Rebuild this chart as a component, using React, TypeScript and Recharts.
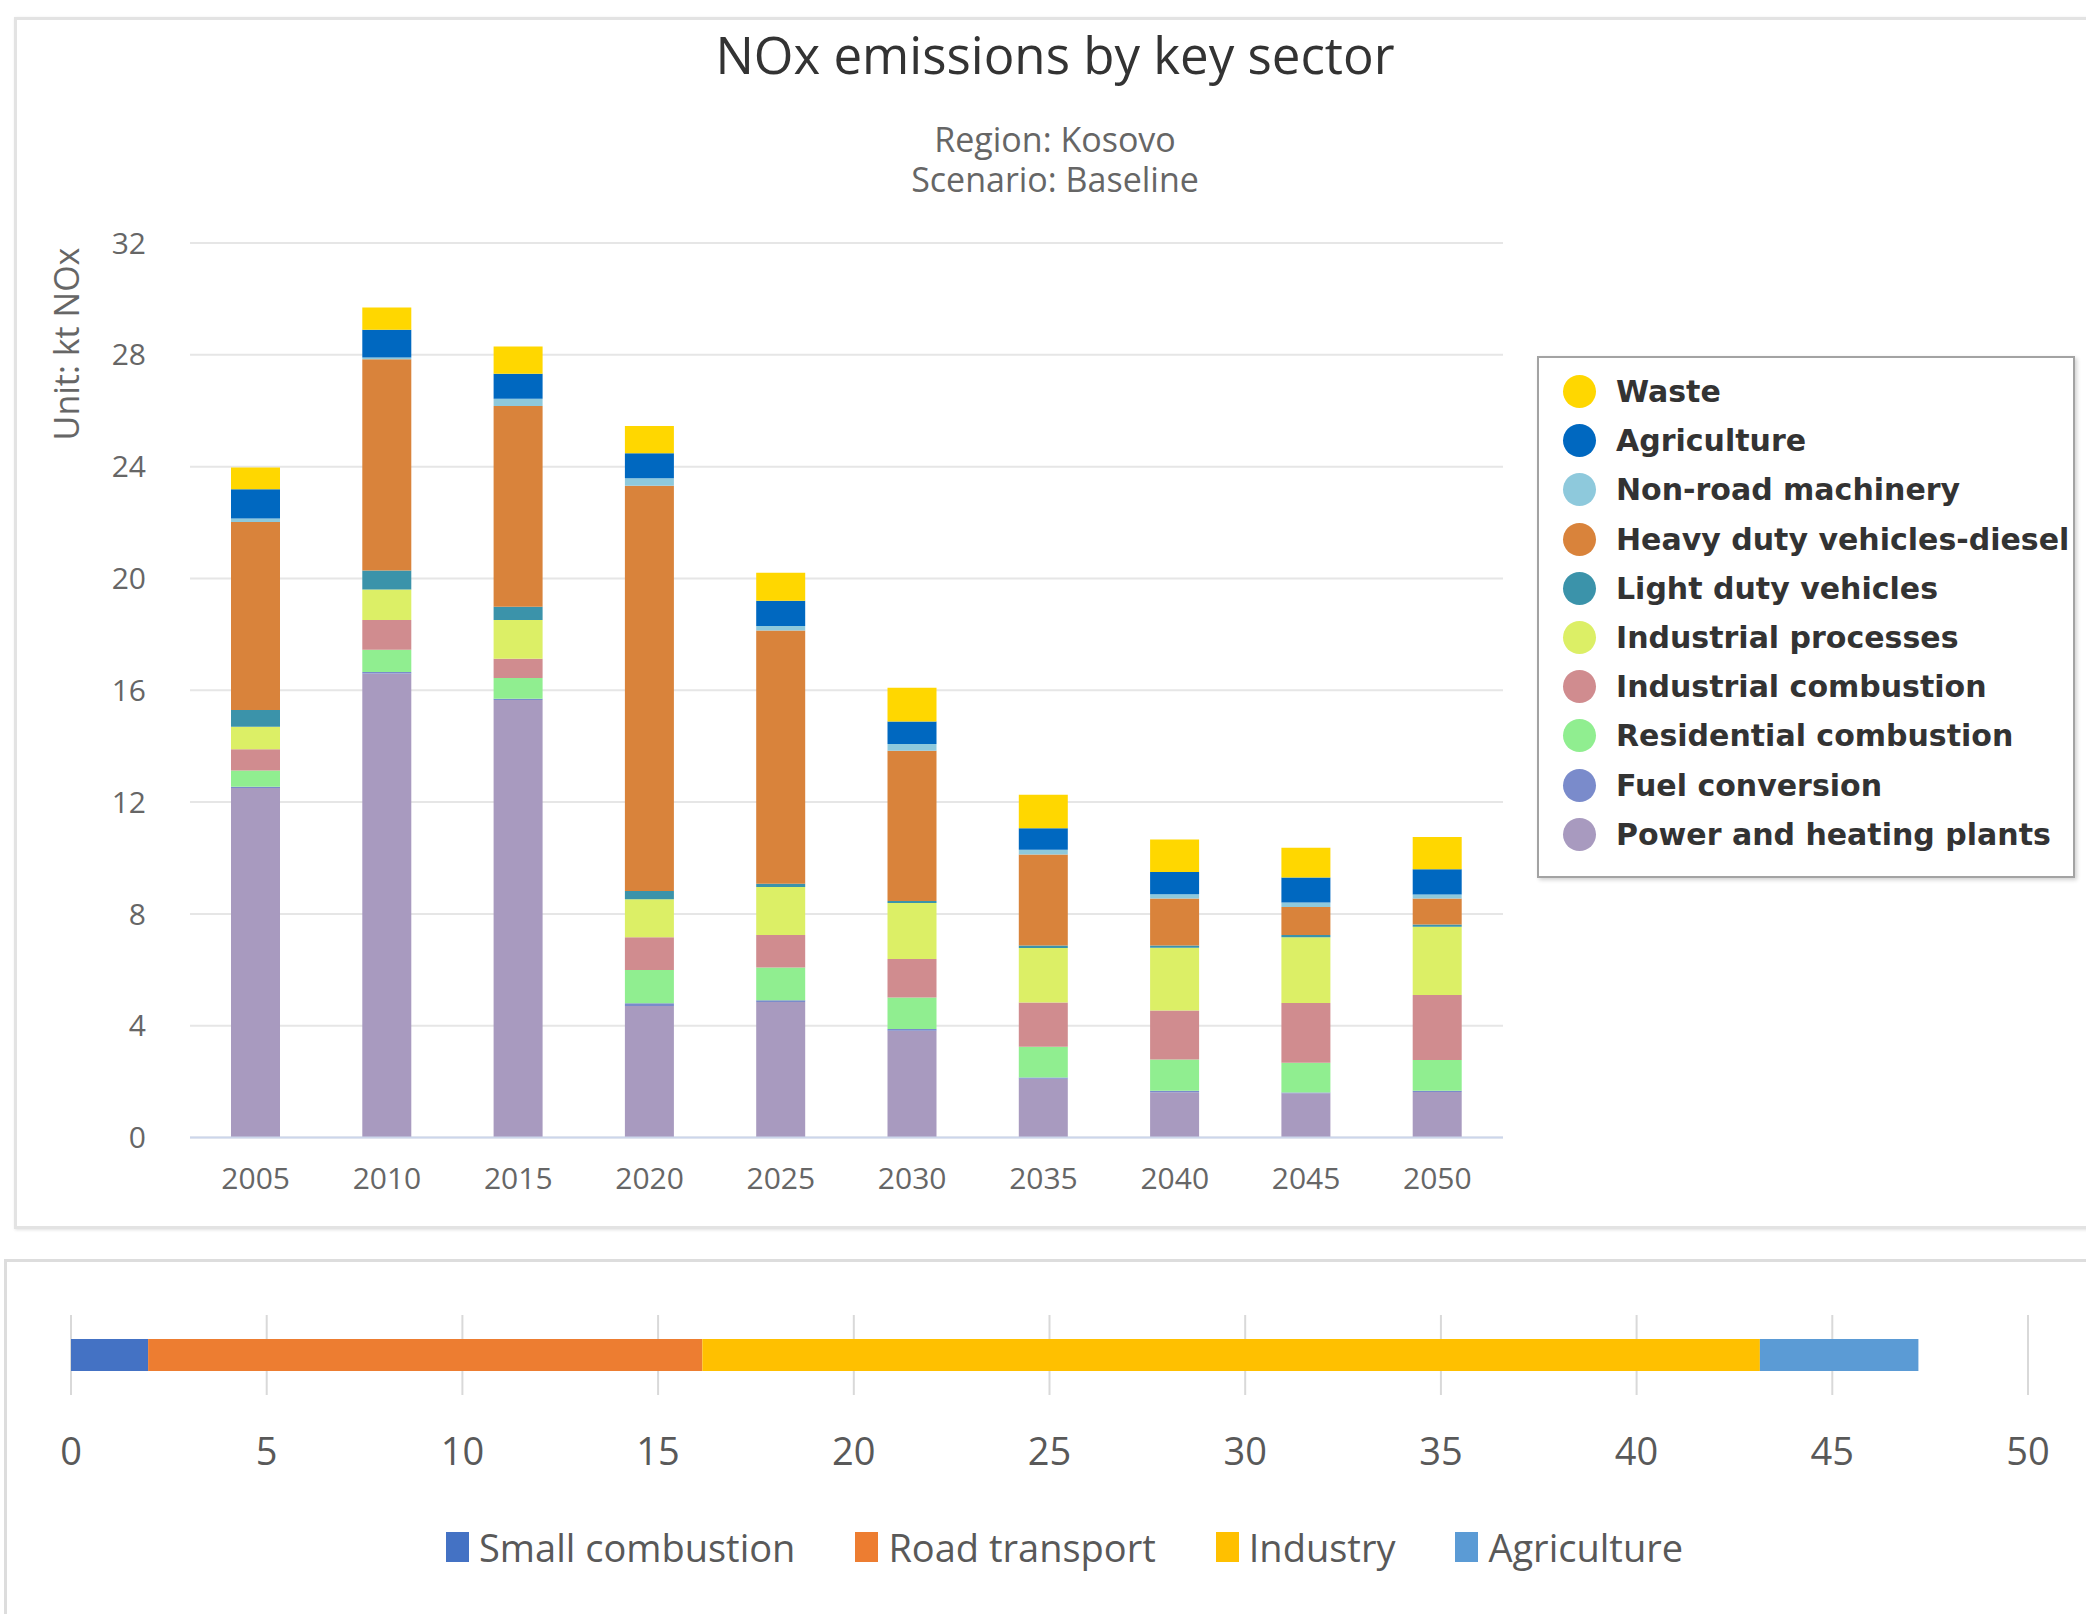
import React from 'react';
import { BarChart, Bar, XAxis, YAxis, CartesianGrid, Legend } from 'recharts';

// top chart: NOx by key sector (kt), stacked bottom -> top
const years = ['2005', '2010', '2015', '2020', '2025', '2030', '2035', '2040', '2045', '2050'];

const powerHeating = [12.5, 16.6, 15.65, 4.7, 4.85, 3.82, 2.1, 1.62, 1.58, 1.63];
const fuelConversion = [0.05, 0.05, 0.05, 0.1, 0.06, 0.06, 0.05, 0.05, 0.03, 0.04];
const residential = [0.58, 0.8, 0.74, 1.19, 1.17, 1.13, 1.1, 1.12, 1.06, 1.1];
const industrialComb = [0.76, 1.06, 0.69, 1.17, 1.16, 1.38, 1.58, 1.75, 2.14, 2.33];
const industrialProc = [0.8, 1.09, 1.38, 1.36, 1.72, 2.0, 1.95, 2.25, 2.35, 2.44];
const lightDuty = [0.6, 0.68, 0.48, 0.3, 0.12, 0.07, 0.09, 0.08, 0.08, 0.08];
const heavyDuty = [6.73, 7.56, 7.18, 14.5, 9.06, 5.38, 3.25, 1.68, 1.01, 0.93];
const nonRoad = [0.12, 0.06, 0.26, 0.26, 0.16, 0.24, 0.17, 0.15, 0.16, 0.14];
const agriculture = [1.05, 1.0, 0.89, 0.9, 0.9, 0.8, 0.77, 0.8, 0.89, 0.91];
const waste = [0.78, 0.79, 0.98, 0.97, 1.0, 1.21, 1.2, 1.16, 1.07, 1.15];

const yTicks = [0, 4, 8, 12, 16, 20, 24, 28, 32];

const sectors = [
  { key: 'power', name: 'Power and heating plants', color: '#a89abf', values: powerHeating },
  { key: 'fuel', name: 'Fuel conversion', color: '#7a8bcb', values: fuelConversion },
  { key: 'residential', name: 'Residential combustion', color: '#90ee90', values: residential },
  { key: 'indComb', name: 'Industrial combustion', color: '#d08c8f', values: industrialComb },
  { key: 'indProc', name: 'Industrial processes', color: '#dcef66', values: industrialProc },
  { key: 'light', name: 'Light duty vehicles', color: '#3b93aa', values: lightDuty },
  { key: 'heavy', name: 'Heavy duty vehicles-diesel', color: '#d9833b', values: heavyDuty },
  { key: 'nonroad', name: 'Non-road machinery', color: '#8ec9dc', values: nonRoad },
  { key: 'agri', name: 'Agriculture', color: '#0068c0', values: agriculture },
  { key: 'waste', name: 'Waste', color: '#ffd700', values: waste },
];

const topData = years.map((year, i) => {
  const row: any = { year };
  sectors.forEach((s) => { row[s.key] = s.values[i]; });
  return row;
});

// bottom chart: single horizontal stacked bar
const groups = ['Small combustion', 'Road transport', 'Industry', 'Agriculture'];
const groupColors = ['#4472c4', '#ed7d31', '#ffc000', '#5b9bd5'];
const groupValues = [1.97, 14.16, 27.02, 4.05];
const xTicks = [0, 5, 10, 15, 20, 25, 30, 35, 40, 45, 50];

const bottomData = [
  groups.reduce((row: any, g, i) => { row[g] = groupValues[i]; return row; }, { name: 'NOx' }),
];

// legend order: top of the stack first
const SectorLegend = () => {
  const items = [...sectors].reverse();
  return (
    <div
      style={{
        boxSizing: 'border-box',
        width: 538,
        height: 522,
        border: '2px solid #a3a3a3',
        boxShadow: '2px 2px 4px rgba(0,0,0,0.18)',
        background: '#fff',
        padding: '9px 0 0 24px',
        overflow: 'hidden',
      }}
    >
      {items.map((s) => (
        <div key={s.key} style={{ height: 49.2, display: 'flex', alignItems: 'center', whiteSpace: 'nowrap' }}>
          <span style={{ width: 33, height: 33, borderRadius: '50%', background: s.color, flex: '0 0 33px' }} />
          <span
            style={{
              marginLeft: 20,
              fontFamily: '"DejaVu Sans", Verdana, sans-serif',
              fontWeight: 'bold',
              fontSize: 30,
              color: '#333',
            }}
          >
            {s.name}
          </span>
        </div>
      ))}
    </div>
  );
};

const GroupLegend = () => (
  <div style={{ display: 'flex', alignItems: 'center', whiteSpace: 'nowrap' }}>
    {groups.map((g, i) => (
      <div key={g} style={{ display: 'flex', alignItems: 'center', marginRight: 60 }}>
        <span style={{ width: 23, height: 30, background: groupColors[i], display: 'inline-block' }} />
        <span style={{ marginLeft: 10, fontFamily: '"Open Sans", sans-serif', fontSize: 38, color: '#595959' }}>
          {g}
        </span>
      </div>
    ))}
  </div>
);

const App = () => {
  return (
    <div
      style={{
        position: 'absolute',
        left: 0,
        top: 0,
        width: 2086,
        height: 1614,
        overflow: 'hidden',
        background: '#fff',
      }}
    >
      {/* frames */}
      <div
        style={{
          position: 'absolute',
          left: 14,
          top: 17,
          width: 2120,
          height: 1212,
          border: '3px solid #e3e3e3',
          boxSizing: 'border-box',
          boxShadow: '1px 1px 3px rgba(0,0,0,0.12)',
        }}
      />
      <div
        style={{
          position: 'absolute',
          left: 4,
          top: 1259,
          width: 2120,
          height: 420,
          border: '3px solid #dddddd',
          boxSizing: 'border-box',
        }}
      />

      {/* titles */}
      <div
        style={{
          position: 'absolute',
          left: 0,
          top: 29,
          width: 2110,
          textAlign: 'center',
          fontFamily: '"Open Sans", sans-serif',
          fontSize: 51,
          lineHeight: 1,
          color: '#333',
        }}
      >
        NOx emissions by key sector
      </div>
      <div
        style={{
          position: 'absolute',
          left: 0,
          top: 119,
          width: 2110,
          textAlign: 'center',
          fontFamily: '"Open Sans", sans-serif',
          fontSize: 34,
          lineHeight: '40px',
          color: '#666',
        }}
      >
        <div>Region: Kosovo</div>
        <div>Scenario: Baseline</div>
      </div>
      <div
        style={{
          position: 'absolute',
          left: 66,
          top: 344,
          transform: 'translate(-50%, -50%) rotate(-90deg)',
          fontFamily: '"Open Sans", sans-serif',
          fontSize: 34,
          lineHeight: 1,
          color: '#666',
          whiteSpace: 'nowrap',
        }}
      >
        Unit: kt NOx
      </div>

      <div style={{ position: 'absolute', left: 0, top: 0 }}>
        <BarChart
          width={2086}
          height={1230}
          data={topData}
          margin={{ top: 243, right: 583, bottom: 62.5, left: 90 }}
        >
          <CartesianGrid vertical={false} stroke="#e6e6e6" strokeWidth={2} />
          <XAxis
            dataKey="year"
            axisLine={{ stroke: '#ccd6eb', strokeWidth: 2 }}
            tickLine={false}
            tickSize={0}
            tickMargin={30}
            tick={{ fill: '#666', fontSize: 30, fontFamily: '"Open Sans", sans-serif' }}
          />
          <YAxis
            width={100}
            domain={[0, 32]}
            ticks={yTicks}
            axisLine={false}
            tickLine={false}
            tickSize={0}
            tickMargin={44}
            tick={{ fill: '#666', fontSize: 30, fontFamily: '"Open Sans", sans-serif' }}
          />
          <Legend
            layout="vertical"
            align="center"
            verticalAlign="middle"
            wrapperStyle={{ left: 1537, top: 356, width: 538 }}
            content={<SectorLegend />}
          />
          {sectors.map((s) => (
            <Bar
              key={s.key}
              dataKey={s.key}
              name={s.name}
              stackId="a"
              fill={s.color}
              barSize={49}
              isAnimationActive={false}
            />
          ))}
        </BarChart>
      </div>

      <div style={{ position: 'absolute', left: 0, top: 1261 }}>
        <BarChart
          width={2086}
          height={353}
          data={bottomData}
          layout="vertical"
          margin={{ top: 54, right: 58, bottom: 189, left: 71 }}
        >
          <CartesianGrid horizontal={false} stroke="#d9d9d9" strokeWidth={2} />
          <XAxis
            type="number"
            domain={[0, 50]}
            ticks={xTicks}
            axisLine={false}
            tickLine={false}
            tickSize={0}
            tickMargin={43}
            tick={{ fill: '#595959', fontSize: 38, fontFamily: '"Open Sans", sans-serif' }}
          />
          <YAxis type="category" dataKey="name" hide />
          <Legend
            layout="vertical"
            align="center"
            verticalAlign="middle"
            wrapperStyle={{ left: 446, top: 260 }}
            content={<GroupLegend />}
          />
          {groups.map((g, i) => (
            <Bar key={g} dataKey={g} stackId="b" fill={groupColors[i]} barSize={32} isAnimationActive={false} />
          ))}
        </BarChart>
      </div>
    </div>
  );
};

export default App;
